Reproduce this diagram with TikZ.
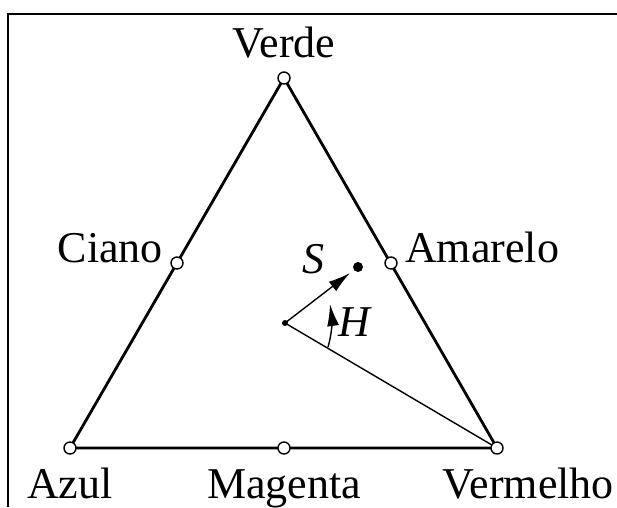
\documentclass[tikz,border=0pt]{standalone}
\usepackage{fontspec}
\setmainfont{Liberation Serif}
\usetikzlibrary{arrows.meta}
\begin{document}
\begin{tikzpicture}[x={(1pt,0)},y={(0,-1pt)},
  vtx/.style={circle,draw,fill=white,line width=1.4pt,minimum size=12pt,inner sep=0pt},
  edge/.style={line width=2.8pt,line cap=round,line join=round},
  thin/.style={line width=1.4pt},
  lbl/.style={inner sep=0pt,font=\fontsize{44}{50}\selectfont},
  ilbl/.style={inner sep=0pt,font=\fontsize{44}{50}\selectfont\itshape},
  arr/.style={-{Latex[length=22pt,width=12pt]}}]
\useasboundingbox (0,0) rectangle (617,507);
% frame
\draw[line width=2pt] (8,507) -- (8,14) -- (617,14);
% coordinates
\coordinate (V) at (284,78);
\coordinate (A) at (70,448);
\coordinate (R) at (497,448);
\coordinate (M) at (284,448);
\coordinate (C) at (177,263);
\coordinate (Y) at (391,263);
\coordinate (c) at (285,323);
\coordinate (sp) at (358,267);
\coordinate (stip) at (350,273);
\coordinate (h0) at (328,347);
\coordinate (h1) at (330,304);
% triangle
\draw[edge] (A) -- (R) -- (V) -- cycle;
% inner lines
\draw[thin] (c) -- (R);
\draw[thin,arr] (c) -- (stip);
\draw[thin,arr] (h0) .. controls (332,334) and (332,318) .. (h1);
% points
\node[vtx] (nV) at (V) {};
\node[vtx] (nA) at (A) {};
\node[vtx] (nR) at (R) {};
\node[vtx] (nM) at (M) {};
\node[vtx] (nC) at (C) {};
\node[vtx] (nY) at (Y) {};
\node[circle,fill,minimum size=6pt,inner sep=0pt] (nc) at (c) {};
\node[circle,fill,minimum size=10pt,inner sep=0pt] (ns) at (sp) {};
% labels
\node[lbl,anchor=base] (tV) at (284,57) {Verde};
\node[lbl,anchor=base west] (tA) at (27,498) {Azul};
\node[lbl,anchor=base] (tM) at (284,498) {Magenta};
\node[lbl,anchor=base east] (tR) at (614,498) {Vermelho};
\node[lbl,anchor=base east] (tC) at (163,262) {Ciano};
\node[lbl,anchor=base west] (tY) at (405,262) {Amarelo};
\node[ilbl,anchor=base west] (tS) at (302,273) {S};
\node[ilbl,anchor=base west] (tH) at (338,336) {H};
\end{tikzpicture}
\end{document}
